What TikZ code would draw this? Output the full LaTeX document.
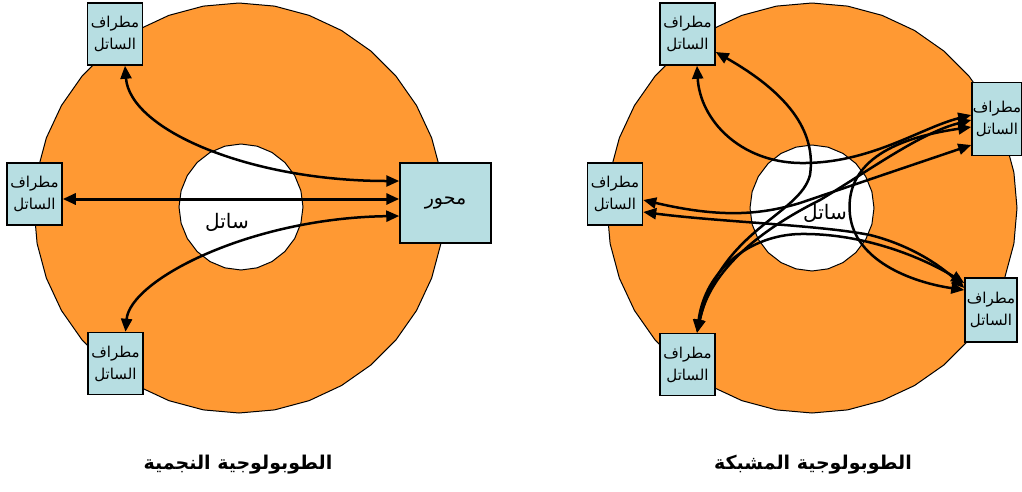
\documentclass[tikz,border=0pt]{standalone}
\usepackage{fontspec}
\usetikzlibrary{arrows.meta,calc}
\TeXXeTstate=1
\newfontfamily\arabicfont[Script=Arabic]{DejaVu Sans}
\definecolor{orng}{RGB}{255,153,51}
\definecolor{boxblue}{RGB}{183,222,226}
\begin{document}
\begin{tikzpicture}[x=1pt,y=-1pt,
  term/.style={draw=black, line width=1.5pt, fill=boxblue, minimum width=55pt, minimum height=62pt,
    inner sep=0pt, align=center, font=\arabicfont\fontsize{15}{22}\selectfont},
  hubbox/.style={term, minimum width=91pt, minimum height=80pt, font=\arabicfont\fontsize{19}{22}\selectfont},
  ring/.style={fill=orng, draw=black, line width=1pt},
  core/.style={fill=white, draw=black, line width=1pt},
  corelabel/.style={font=\arabicfont\fontsize{20}{22}\selectfont},
  title/.style={font=\arabicfont\bfseries\fontsize{19}{22}\selectfont},
  link/.style={line width=2.5pt, {Triangle[length=13pt,width=11pt]}-{Triangle[length=13pt,width=11pt]}},
]
\useasboundingbox (0,0) rectangle (1022,491);
% left rings
\draw[ring] ({239+205},208) \foreach \a in {10,20,...,350}{ -- ({239+205*cos(\a)},{208+205*sin(\a)}) } -- cycle;
\draw[core] ({241+62},207) \foreach \a in {15,30,...,345}{ -- ({241+62*cos(\a)},{207+63*sin(\a)}) } -- cycle;
% right rings
\draw[ring] ({812+205},208) \foreach \a in {10,20,...,350}{ -- ({812+205*cos(\a)},{208+205*sin(\a)}) } -- cycle;
\draw[core] ({812+62},208) \foreach \a in {15,30,...,345}{ -- ({812+62*cos(\a)},{208+63*sin(\a)}) } -- cycle;

\node[corelabel] (sat1) at (227,222) {\beginR ساتل\endR};
\node[corelabel] (sat2) at (825,213) {\beginR ساتل\endR};

% left boxes
\node[term] (t1) at (115,34) {\beginR مطراف\endR\\\beginR الساتل\endR};
\node[term] (l1) at (34.5,194) {\beginR مطراف\endR\\\beginR الساتل\endR};
\node[term] (b1) at (115.5,363.5) {\beginR مطراف\endR\\\beginR الساتل\endR};
\node[hubbox] (hub) at (445.5,203) {\beginR محور\endR};

% right boxes
\node[term] (t2) at (687.5,34) {\beginR مطراف\endR\\\beginR الساتل\endR};
\node[term, minimum width=50pt, minimum height=73pt] (rt) at (997,119) {\beginR مطراف\endR\\\beginR الساتل\endR};
\node[term] (l2) at (615,194) {\beginR مطراف\endR\\\beginR الساتل\endR};
\node[term, minimum width=52pt, minimum height=64pt] (rb) at (991,310) {\beginR مطراف\endR\\\beginR الساتل\endR};
\node[term] (b2) at (687.5,364.5) {\beginR مطراف\endR\\\beginR الساتل\endR};

% star links
\draw[link] ([xshift=10pt]t1.south) .. controls (130,130) and (250,181) .. ([yshift=22pt]hub.west);
\draw[link, line width=3pt] ([yshift=-5pt]l1.east) -- ([yshift=4pt]hub.west);
\draw[link] ([xshift=10pt]b1.north) .. controls (130,280) and (250,218) .. ([yshift=-13pt]hub.west);

% mesh links
\draw[link] ([xshift=9.5pt]t2.south) .. controls (700,120) and (740,162) .. (800,163) .. controls (870,164) and (920,128) .. ([yshift=4pt]rt.west);
\draw[link] ([yshift=-18pt]t2.east) .. controls (800,100) and (815,140) .. (810,175) .. controls (800,215) and (720,230) .. ([xshift=9.5pt]b2.north);
\draw[link] ([yshift=-6pt]l2.east) .. controls (720,218) and (760,215) .. (800,203) -- ([yshift=-26pt]rt.west);
\draw[link] ([yshift=-18pt]l2.east) .. controls (720,222) and (820,225) .. (870,235) .. controls (910,245) and (940,265) .. ([yshift=22pt]rb.west);
\draw[link] ([xshift=9.5pt]b2.north) .. controls (710,270) and (760,230) .. (820,200) .. controls (870,170) and (920,133) .. ([yshift=-1pt]rt.west);
\draw[link] ([xshift=9.5pt]b2.north) .. controls (705,270) and (750,235) .. (800,234) .. controls (870,233) and (930,262) .. ([yshift=27pt]rb.west);
\draw[link] ([yshift=-8pt]rt.west) .. controls (880,140) and (845,170) .. (850,215) .. controls (855,260) and (910,282) .. ([yshift=20pt]rb.west);

% titles
\node[title] (title1) at (238,465) {\beginR الطوبولوجية النجمية\endR};
\node[title] (title2) at (813,465) {\beginR الطوبولوجية المشبكة\endR};
\end{tikzpicture}
\end{document}
